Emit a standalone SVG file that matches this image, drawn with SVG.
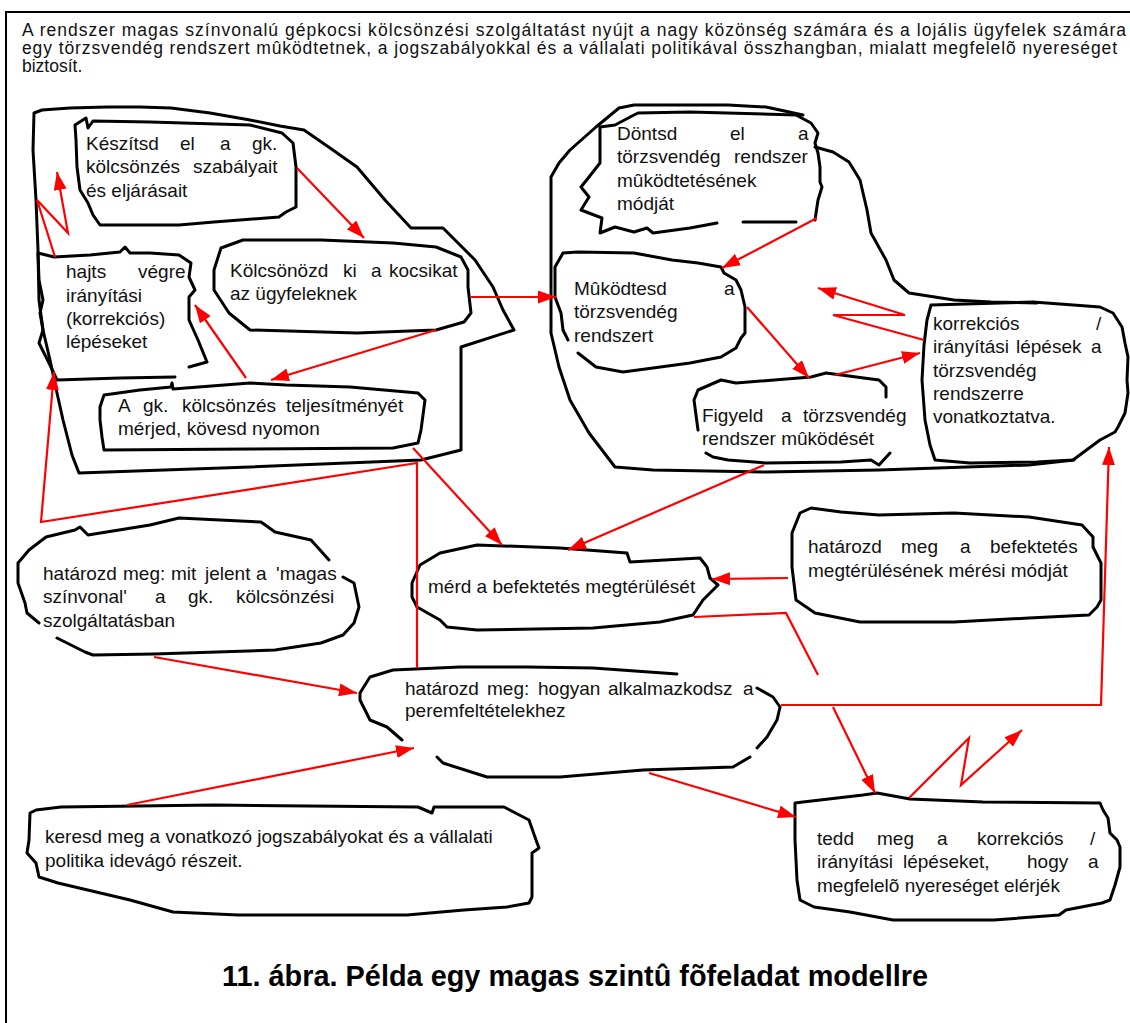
<svg xmlns="http://www.w3.org/2000/svg" width="1130" height="1023" viewBox="0 0 1130 1023">
<style>
.frame{fill:none;stroke:#000;stroke-width:2}
.ol{fill:none;stroke:#000;stroke-width:3;stroke-linejoin:round;stroke-linecap:round}
.c{fill:none;stroke:#f00;stroke-width:2.2}
.t{font-family:"Liberation Sans",Arial,sans-serif;font-size:19px;fill:#111}
.h{font-family:"Liberation Sans",Arial,sans-serif;font-size:17.5px;fill:#111}
.title{font-family:"Liberation Sans",Arial,sans-serif;font-size:29px;font-weight:bold;fill:#000}
</style>
<defs>
<marker id="ah" viewBox="0 0 18 13" refX="18" refY="6.5" markerWidth="18" markerHeight="13" markerUnits="userSpaceOnUse" orient="auto"><path d="M0,0 L18,6.5 L0,13 Z" fill="#f00"/></marker>
</defs>
<rect width="1130" height="1023" fill="#fff"/>
<path class="frame" d="M6,1023 L6,12 L1130,12"/>
<g id="header">
<text class="h" x="22" y="36" textLength="1104" lengthAdjust="spacing">A rendszer magas színvonalú gépkocsi kölcsönzési szolgáltatást nyújt a nagy közönség számára és a lojális ügyfelek számára</text>
<text class="h" x="22" y="54" textLength="1095" lengthAdjust="spacing">egy törzsvendég rendszert mûködtetnek, a jogszabályokkal és a vállalati politikával összhangban, mialatt megfelelõ nyereséget</text>
<text class="h" x="22" y="72">biztosít.</text>
</g>
<g id="group-left">
<path class="ol" d="M34,113 L42,110 L70,108 L107,107 L140,107 L171,108 L210,113 L250,120 L280,126 L304,130 L330,148 L357,167 L385,200 L411,228 L443,228 L460,245 L475,260 L493,287 L503,310 L514,330 L461,347 L461,450 L421,460 L250,467 L79,473 L72,455 L63,420 L57,393 L50,360 L43,330 L39,300 L38,250 L36,200 L33,150 Z"/>
</g>
<g id="group-right">
<path class="ol" d="M551,177 L559,163 L570,150 L596,127 L619,108 L634,105 L653,105 L728,105 L766,107 L803,115 M815,147 L833,152 L849,162 L860,180 L867,210 L871,233 L886,260 L894,280 L909,293 L954,300 L991,302 L1037,303 M1074,460 L1029,465 L879,470 L766,472 L653,470 L615,467 L589,433 L570,400 L559,367 L551,333 L551,300 L551,177"/>
</g>
<g id="node-keszitsd">
<path class="ol" d="M77,167 L76,140 L75,125 L86,118 L88,128 L93,121 L150,122 L250,125 L282,133 L293,143 L296,167 L296,207 L286,212 L279,217 L214,222 L179,225 L100,225 L93,215 L88,203 L80,190 Z"/>
<text class="t" y="150"><tspan x="86">Készítsd</tspan><tspan x="180">el</tspan><tspan x="220">a</tspan><tspan x="252">gk.</tspan></text>
<text class="t" y="173"><tspan x="86">kölcsönzés</tspan><tspan x="193">szabályait</tspan></text>
<text class="t" x="86" y="197">és eljárásait</text>
</g>
<g id="node-hajts">
<path class="ol" d="M38,253 L54,257 L90,255 L120,252 L125,247 L130,253 L150,253 L179,255 L191,263 L189,277 L195,290 L189,297 L189,320 L198,340 L207,362 L189,367 M175,377 L120,378 L57,380 L50,365 L39,343 L43,330 L40,313 L43,300 L39,280 L38,253"/>
<text class="t" y="278"><tspan x="66">hajts</tspan><tspan x="138">végre</tspan></text>
<text class="t" x="66" y="302">irányítási</text>
<text class="t" x="66" y="325">(korrekciós)</text>
<text class="t" x="66" y="348">lépéseket</text>
</g>
<g id="node-kolcsonozd">
<path class="ol" d="M221,248 L243,240 L321,240 L393,243 L436,247 L461,257 L468,270 L468,287 L471,313 L464,322 L436,330 L357,333 L250,330 L229,313 L214,290 L214,270 Z"/>
<text class="t" y="277"><tspan x="230">Kölcsönözd</tspan><tspan x="343">ki</tspan><tspan x="371">a</tspan><tspan x="389">kocsikat</tspan></text>
<text class="t" x="230" y="300">az ügyfeleknek</text>
</g>
<g id="node-teljesitmeny">
<path class="ol" d="M104,395 L140,390 L171,387 L172,383 L173,389 L250,383 L286,385 L350,387 L418,393 L425,400 L423,415 L421,430 L418,443 L393,448 L250,449 L104,450 L102,437 L100,420 L100,407 Z"/>
<text class="t" y="412"><tspan x="118">A</tspan><tspan x="143">gk.</tspan><tspan x="182">kölcsönzés</tspan><tspan x="286">teljesítményét</tspan></text>
<text class="t" x="118" y="435">mérjed, kövesd nyomon</text>
</g>
<g id="node-dontsd">
<path class="ol" d="M600,127 L615,125 L634,115 L638,113 L690,112 L796,115 L811,123 L818,133 L815,143 L818,153 L820,167 L820,182 L822,187 L818,200 L815,220 M796,222 L743,222 M717,223 L690,228 L653,233 L647,228 L634,232 L615,227 L600,233 L602,218 L581,210 L589,197 L581,187 L589,177 L600,163 L600,127"/>
<text class="t" y="140"><tspan x="617">Döntsd</tspan><tspan x="730">el</tspan><tspan x="798">a</tspan></text>
<text class="t" y="163"><tspan x="617">törzsvendég</tspan><tspan x="734">rendszer</tspan></text>
<text class="t" x="617" y="187">mûködtetésének</text>
<text class="t" x="617" y="210">módját</text>
</g>
<g id="node-mukodtesd">
<path class="ol" d="M563,253 L578,252 L634,253 L672,260 L698,263 L721,267 L724,273 L736,280 L741,290 L745,307 L745,333 L741,338 L736,348 L721,357 L690,363 L653,368 L623,372 L596,367 L578,353 M568,340 L563,330 L561,313 L555,297 L555,267 L563,253"/>
<text class="t" y="295"><tspan x="574">Mûködtesd</tspan><tspan x="724">a</tspan></text>
<text class="t" x="574" y="318">törzsvendég</text>
<text class="t" x="574" y="342">rendszert</text>
</g>
<g id="node-figyeld">
<path class="ol" d="M694,400 L698,390 L721,380 L736,383 L811,377 L826,373 L879,380 L886,387 L886,397 M890,453 L879,465 L871,460 L841,462 L766,463 L728,460 L713,457 L706,453 M698,430 L694,400"/>
<text class="t" y="422"><tspan x="702">Figyeld</tspan><tspan x="781">a</tspan><tspan x="803">törzsvendég</tspan></text>
<text class="t" x="702" y="445">rendszer mûködését</text>
</g>
<g id="node-korrekcios">
<path class="ol" d="M931,305 L1033,302 L1100,307 L1113,313 L1122,327 L1125,343 L1128,357 L1127,380 L1128,393 L1125,413 L1118,427 L1115,432 L1100,440 L1073,460 L1037,462 L970,463 L935,460 L930,445 L925,420 L922,380 L924,345 L927,320 Z"/>
<text class="t" y="330"><tspan x="933">korrekciós</tspan><tspan x="1096">/</tspan></text>
<text class="t" y="353"><tspan x="933">irányítási</tspan><tspan x="1016">lépések</tspan><tspan x="1091">a</tspan></text>
<text class="t" x="933" y="377">törzsvendég</text>
<text class="t" x="933" y="400">rendszerre</text>
<text class="t" x="933" y="423">vonatkoztatva.</text>
</g>
<g id="node-magas">
<path class="ol" d="M18,563 L29,550 L46,537 L75,530 L80,527 L88,535 L150,525 L179,518 L261,522 L275,532 L311,540 L329,560 M343,577 L354,583 L359,607 L354,623 L343,635 L321,643 L275,650 L154,654 L93,655 L85,652 L57,638 M39,623 L27,613 L25,603 L18,583 L18,563"/>
<text class="t" y="580"><tspan x="43">határozd</tspan><tspan x="123">meg:</tspan><tspan x="171">mit</tspan><tspan x="205">jelent</tspan><tspan x="256">a</tspan><tspan x="276">'magas</tspan></text>
<text class="t" y="603"><tspan x="43">színvonal'</tspan><tspan x="155">a</tspan><tspan x="188">gk.</tspan><tspan x="236">kölcsönzési</tspan></text>
<text class="t" x="43" y="627">szolgáltatásban</text>
</g>
<g id="node-merd">
<path class="ol" d="M412,583 L420,565 L440,553 L477,545 L560,548 L627,553 L630,562 L700,558 L707,567 L710,578 L718,585 L703,600 L693,615 L660,622 L593,628 L477,630 L447,627 L440,620 L417,607 L412,597 Z"/>
<text class="t" x="428" y="593">mérd a befektetés megtérülését</text>
</g>
<g id="node-meresi-mod">
<path class="ol" d="M800,513 L811,508 L841,512 L879,515 L954,513 L1029,517 L1082,525 L1093,537 L1093,547 L1101,563 L1101,600 L1097,607 L1089,615 L1029,618 L954,622 L860,622 L815,613 L796,600 L792,567 L792,533 Z"/>
<text class="t" y="553"><tspan x="808">határozd</tspan><tspan x="901">meg</tspan><tspan x="960">a</tspan><tspan x="990">befektetés</tspan></text>
<text class="t" x="808" y="577">megtérülésének mérési módját</text>
</g>
<g id="node-alkalmazkodsz">
<path class="ol" d="M360,693 L370,677 L393,670 L460,667 L527,667 L593,668 L677,674 M757,688 L773,697 L780,707 L777,720 L767,737 L757,748 M750,757 L733,767 L643,770 L560,777 L487,777 L443,763 L437,757 M402,740 L387,727 L370,720 L360,700 L360,693"/>
<text class="t" y="695"><tspan x="405">határozd</tspan><tspan x="487">meg:</tspan><tspan x="538">hogyan</tspan><tspan x="608">alkalmazkodsz</tspan><tspan x="743">a</tspan></text>
<text class="t" x="405" y="717">peremfeltételekhez</text>
</g>
<g id="node-jogszabaly">
<path class="ol" d="M30,813 L36,810 L61,807 L214,805 L418,807 L432,813 L434,807 L504,807 L529,820 L536,840 L539,848 L532,853 L532,897 L529,903 L507,907 L464,910 L407,915 L238,915 L173,912 L130,900 L58,883 L39,877 L36,863 L27,853 L29,840 Z"/>
<text class="t" x="45" y="843">keresd meg a vonatkozó jogszabályokat és a vállalati</text>
<text class="t" x="45" y="867">politika idevágó részeit.</text>
</g>
<g id="node-tedd">
<path class="ol" d="M795,803 L803,802 L863,795 L877,793 L910,799 L983,802 L1100,803 L1103,810 L1108,818 L1110,833 L1117,840 L1120,847 L1120,867 L1115,885 L1110,900 L1102,903 L1066,910 L1059,915 L994,920 L893,920 L850,912 L814,907 L800,900 L797,880 L795,840 Z"/>
<text class="t" y="845"><tspan x="817">tedd</tspan><tspan x="877">meg</tspan><tspan x="937">a</tspan><tspan x="977">korrekciós</tspan><tspan x="1090">/</tspan></text>
<text class="t" y="868"><tspan x="817">irányítási</tspan><tspan x="903">lépéseket,</tspan><tspan x="1027">hogy</tspan><tspan x="1088">a</tspan></text>
<text class="t" x="817" y="892">megfelelõ nyereséget elérjék</text>
</g>
<g id="connectors">
<path class="c" marker-end="url(#ah)" d="M297,168 L364,238"/>
<path class="c" marker-end="url(#ah)" d="M436,330 L271,380"/>
<path class="c" marker-end="url(#ah)" d="M246,378 L195,305"/>
<path class="c" marker-end="url(#ah)" d="M471,297 L556,297"/>
<path class="c" marker-end="url(#ah)" d="M55,257 L37,200 L68,233 L57,172"/>
<path class="c" marker-end="url(#ah)" d="M417,668 L417,463 L41,522 L54,372"/>
<path class="c" marker-end="url(#ah)" d="M413,448 L502,545"/>
<path class="c" marker-end="url(#ah)" d="M817,218 L722,268"/>
<path class="c" marker-end="url(#ah)" d="M747,307 L809,378"/>
<path class="c" marker-end="url(#ah)" d="M835,375 L920,353"/>
<path class="c" marker-end="url(#ah)" d="M924,340 L833,315 L905,315 L818,288"/>
<path class="c" marker-end="url(#ah)" d="M764,465 L568,550"/>
<path class="c" marker-end="url(#ah)" d="M154,657 L357,693"/>
<path class="c" marker-end="url(#ah)" d="M127,805 L414,748"/>
<path class="c" marker-end="url(#ah)" d="M788,578 L712,579"/>
<path class="c" d="M694,617 L786,613 L818,675"/>
<path class="c" marker-end="url(#ah)" d="M781,705 L1101,705 L1109,447"/>
<path class="c" marker-end="url(#ah)" d="M833,707 L875,793"/>
<path class="c" marker-end="url(#ah)" d="M649,773 L796,817"/>
<path class="c" marker-end="url(#ah)" d="M909,798 L969,738 L961,785 L1022,730"/>
</g>
<g id="caption">
<text class="title" x="222" y="986" textLength="706" lengthAdjust="spacingAndGlyphs">11. ábra. Példa egy magas szintû fõfeladat modellre</text>
</g>
</svg>
